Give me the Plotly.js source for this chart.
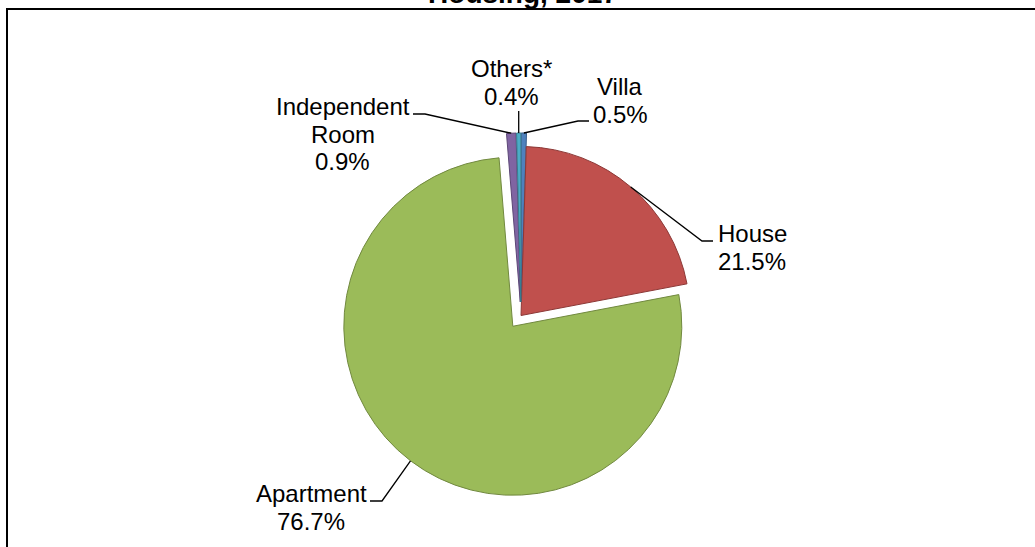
<!DOCTYPE html>
<html>
<head>
<meta charset="utf-8">
<script src="https://cdn.plot.ly/plotly-3.0.1.min.js"></script>
<style>
  html, body { margin: 0; padding: 0; background: #fff; }
  #chart { width: 1035px; height: 547px; }
</style>
</head>
<body>
<div id="chart"></div>
<script>
// ---- data ----
const labels = ['Villa', 'House', 'Apartment', 'Independent Room', 'Others*'];
const values = [0.5, 21.5, 76.7, 0.9, 0.4];
const chartTitle = 'Housing, 2017';

// ---- styling / layout constants ----
const W = 1035, H = 547;
const CX = 521, CY = 315.5, RAD = 169;
const pulls = [0.08, 0, 0.08, 0.08, 0.08];
const fills = ['#4F81BD', '#C0504D', '#9BBB59', '#8064A2', '#4BACC6'];
const edges = ['#385D8A', '#8C3836', '#71893F', '#5C4776', '#357D91'];
const FONT = 'Liberation Sans, Arial, sans-serif';
const FS = 24, LINE_H = 27.5;

// label placement: centre x, first baseline y, leader elbow points (px)
const labelPlace = [
  { x: 620,   y: 95,  elbow: [[578, 121], [589, 121]] },
  { x: 752,   y: 242, elbow: [[702, 241], [713, 241]] },
  { x: 311,   y: 502, elbow: [[382, 501], [370, 501]] },
  { x: 342.5, y: 115, elbow: [[425, 114], [413, 114]] },
  { x: 511,   y: 77,  elbow: [[null, 111]] }
];

const px2x = x => x / W;
const px2y = y => 1 - y / H;

// pie domain so that radius = RAD and centre = (CX, CY)
const maxPull = Math.max(...pulls);
const box = RAD * (2 + 2 * maxPull);
const domain = {
  x: [px2x(CX - box / 2), px2x(CX + box / 2)],
  y: [px2y(CY + box / 2), px2y(CY - box / 2)]
};

const trace = {
  type: 'pie',
  labels: labels,
  values: values,
  sort: false,
  direction: 'clockwise',
  rotation: 0,
  pull: pulls,
  textinfo: 'none',
  hoverinfo: 'label+percent',
  marker: { colors: fills, line: { color: edges, width: 1 } },
  domain: domain,
  showlegend: false
};

// annotations and leader lines
const total = values.reduce((a, b) => a + b, 0);
const annotations = [];
const shapes = [];
let cum = 0;
values.forEach((v, i) => {
  const mid = (cum + v / 2) / total * 2 * Math.PI;
  cum += v;
  const rr = RAD * (1 + pulls[i]);
  const ex = CX + rr * Math.sin(mid);
  const ey = CY - rr * Math.cos(mid);
  const p = labelPlace[i];
  const lines = labels[i].split(' ').concat([v.toFixed(1) + '%']);
  lines.forEach((t, k) => {
    const base = p.y + k * LINE_H;
    annotations.push({
      text: t, showarrow: false,
      xref: 'paper', yref: 'paper',
      x: px2x(p.x), y: px2y(base - 0.3465 * FS),
      xanchor: 'center', yanchor: 'middle',
      font: { family: FONT, size: FS, color: '#000' }
    });
  });
  let path = 'M ' + px2x(ex) + ' ' + px2y(ey);
  p.elbow.forEach(([x, y]) => {
    path += ' L ' + px2x(x === null ? ex : x) + ' ' + px2y(y);
  });
  shapes.push({
    type: 'path', xref: 'paper', yref: 'paper', path: path,
    line: { color: '#000', width: 1.3 }
  });
});

// outer frame
shapes.push({
  type: 'rect', xref: 'paper', yref: 'paper',
  x0: px2x(7), x1: 1.05, y0: -0.05, y1: px2y(9),
  line: { color: '#000', width: 2 }
});

const layout = {
  width: W, height: H,
  margin: { l: 0, r: 0, t: 0, b: 0, pad: 0 },
  paper_bgcolor: '#fff', plot_bgcolor: '#fff',
  title: {
    text: chartTitle,
    font: { family: FONT, size: 28, color: '#000', weight: 'bold' },
    xref: 'container', yref: 'container',
    x: 523 / W, xanchor: 'center',
    y: 1 - 3 / H, yanchor: 'bottom'
  },
  annotations: annotations,
  shapes: shapes,
  showlegend: false
};

Plotly.newPlot('chart', [trace], layout, { displayModeBar: false, staticPlot: true });
</script>
</body>
</html>
